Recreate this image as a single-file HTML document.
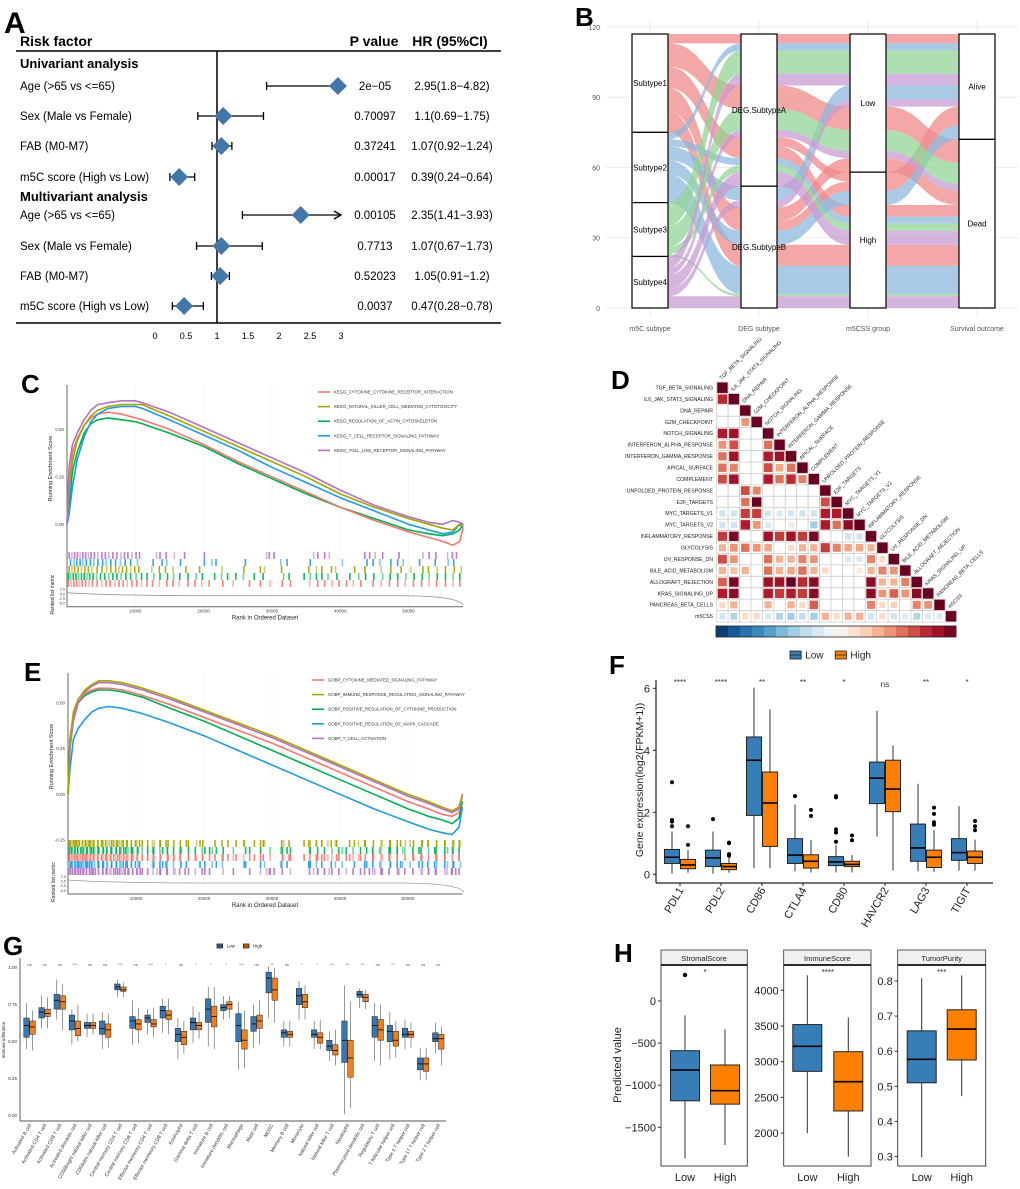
<!DOCTYPE html>
<html><head><meta charset="utf-8">
<style>
html,body{margin:0;padding:0;background:#fff;}
svg{display:block;font-family:"Liberation Sans",Arial,sans-serif;}
</style></head>
<body>
<svg id="fig" width="1020" height="1189" viewBox="0 0 1020 1189" xmlns="http://www.w3.org/2000/svg">
<rect width="1020" height="1189" fill="#fff"/>
<text x="4" y="33" font-size="30" font-weight="bold">A</text>
<text x="575" y="26" font-size="26" font-weight="bold">B</text>
<text x="21" y="393" font-size="26" font-weight="bold">C</text>
<text x="611" y="389" font-size="26" font-weight="bold">D</text>
<text x="24" y="681" font-size="26" font-weight="bold">E</text>
<text x="609" y="674" font-size="26" font-weight="bold">F</text>
<text x="3" y="955" font-size="26" font-weight="bold">G</text>
<text x="614" y="962" font-size="26" font-weight="bold">H</text>
<g id="pa"></g><g id="pb"></g><g id="pc"></g><g id="pd"></g><g id="pe"></g><g id="pf"></g><g id="pg"></g><g id="ph"></g>
</svg>
<script>
// ===== Panel A data =====
var aLabels=["Age (>65 vs <=65)","Sex (Male vs Female)","FAB (M0-M7)","m5C score (High vs Low)","Age (>65 vs <=65)","Sex (Male vs Female)","FAB (M0-M7)","m5C score (High vs Low)"];
var aHR=[2.95,1.1,1.07,0.39,2.35,1.07,1.05,0.47];
var aLo=[1.8,0.69,0.92,0.24,1.41,0.67,0.91,0.28];
var aHi=[4.82,1.75,1.24,0.64,3.93,1.73,1.2,0.78];
var aP=["2e\u221205","0.70097","0.37241","0.00017","0.00105","0.7713","0.52023","0.0037"];
var aHRtxt=["2.95(1.8\u22124.82)","1.1(0.69\u22121.75)","1.07(0.92\u22121.24)","0.39(0.24\u22120.64)","2.35(1.41\u22123.93)","1.07(0.67\u22121.73)","1.05(0.91\u22121.2)","0.47(0.28\u22120.78)"];
var aTicks=[0,0.5,1,1.5,2,2.5,3];
// ===== Panel B data =====
var bAxes=["m5C subtype","DEG subtype","m5CSS group","Survival outcome"];
var bNodes=[["Subtype1","Subtype2","Subtype3","Subtype4"],["DEG.SubtypeA","DEG.SubtypeB"],["Low","High"],["Alive","Dead"]];
// [subtype, deg, group, outcome, count]
var bFlows=[[0,0,0,0,4],[0,0,0,1,10],[0,0,1,1,5],[0,0,1,0,4],[0,1,0,1,6],[0,1,1,1,9],[0,1,1,0,4],
[1,0,0,0,3],[1,0,1,1,3],[1,1,0,0,6],[1,1,1,1,12],[1,1,1,0,6],
[2,0,0,0,10],[2,0,0,1,9],[2,0,1,1,3],[2,1,1,1,1],
[3,0,0,0,5],[3,0,0,1,3],[3,0,1,1,6],[3,1,1,1,5],[3,1,0,0,3]];
var bTicks=[0,30,60,90,120];
// ===== Panel C data =====
var cNames=["KEGG_CYTOKINE_CYTOKINE_RECEPTOR_INTERACTION","KEGG_NATURAL_KILLER_CELL_MEDIATED_CYTOTOXICITY","KEGG_REGULATION_OF_ACTIN_CYTOSKELETON","KEGG_T_CELL_RECEPTOR_SIGNALING_PATHWAY","KEGG_TOLL_LIKE_RECEPTOR_SIGNALING_PATHWAY"];
var esRanks=[0,300,800,1500,2500,3500,4500,6000,8000,10000,11000,15000,20000,25000,30000,35000,40000,45000,50000,53000,55000,56500,57500,58000];
var cRed=[0,0.2,0.38,0.45,0.52,0.56,0.58,0.59,0.58,0.56,0.55,0.5,0.42,0.33,0.25,0.17,0.09,0.02,-0.04,-0.07,-0.09,-0.11,-0.09,-0.02];
var cOlive=[0,0.2,0.33,0.44,0.52,0.57,0.6,0.62,0.63,0.63,0.63,0.57,0.49,0.41,0.33,0.25,0.16,0.09,0.03,0.0,-0.02,-0.03,0.0,-0.01];
var cGreen=[0,0.1,0.28,0.38,0.48,0.53,0.55,0.56,0.55,0.54,0.53,0.48,0.41,0.32,0.24,0.16,0.09,0.03,-0.03,-0.05,-0.06,-0.05,-0.03,0];
var cBlue=[0,0.05,0.2,0.34,0.46,0.54,0.58,0.61,0.62,0.62,0.61,0.55,0.47,0.39,0.3,0.22,0.14,0.07,0.0,-0.03,-0.05,-0.04,0.0,-0.02];
var cPurple=[0,0.3,0.42,0.48,0.55,0.6,0.63,0.64,0.65,0.65,0.64,0.59,0.51,0.43,0.35,0.27,0.18,0.10,0.04,0.01,0.0,0.02,0.01,0.0];
var cRugPurple=[0.2,0.6,1,1.4,1.8,2.2,2.6,3,3.4,3.9,4.4,5,5.5,6,6.6,7.2,7.8,8.3,8.8,9.4,10,10.5,13,13.5,14.4,15.6,17.1,20,29.1,29.5,30.2,36,36.6,37.6,38.3,43.5,44.2,45,46.1,48.5,52,52.9,53.9,55.6,56.3,56.9];
var cRugBlue=[0.4,0.9,1.3,1.8,2.2,2.7,3.3,3.8,4.4,5.1,5.6,6.3,7,7.7,8.4,9.2,10.2,12.5,13.8,14.5,16.5,20,21.1,21.7,26,31.2,32.1,35.5,40.2,43.8,44.7,45.7,47.3,48.3,49.1,51.5,53.8,55.7,56.5];
var cRugOlive=[0.2,0.6,1,1.5,2,2.5,3,3.5,4.3,5,5.7,6.3,7,7.5,8,8.6,9.2,9.8,10.4,12.3,13.4,14.3,15.4,17.3,19.3,22.6,25.8,28.2,28.8,31.3,35.3,36.4,37.2,38.6,39.2,42,43.5,45.9,47.3,48.8,50.2,52,52.8,54.1,55.3,56.6,57.6];
var cRugGreen=[0.1,0.4,0.8,1.2,1.6,2,2.4,2.8,3.2,3.7,4.2,4.8,5.4,6,6.6,7.2,7.8,8.5,9.2,10,10.8,11.6,12.6,13.5,14.6,15.5,16.4,17.6,18.8,19.7,21.5,22.5,23.4,24.6,25.7,27.3,28.6,31.6,32.4,34.6,35.5,36.4,37.2,38.1,39.4,41.3,42.6,43.6,44.8,46.1,47.2,48.3,49.5,50.7,51.9,52.9,54.1,55.3,56.4,57.4];
var cRugRed=[0.1,0.5,0.9,1.3,1.7,2.1,2.6,3.1,3.6,4.3,5,5.6,6.2,6.9,7.5,8.1,8.7,9.4,10.1,10.8,11.6,12.4,13.4,14.5,15.4,16.3,17.6,18.6,19.6,20.7,22.7,24.2,26.6,28.2,29.6,31.4,32.6,35.4,36.6,37.6,38.7,39.7,40.8,41.8,42.9,44.7,45.9,47.1,48.3,49.4,50.6,51.8,52.9,54,55.3,56.4,57.4];
var cTicks=[10000,20000,30000,40000,50000];
// ===== Panel D data =====
var dLabels=["TGF_BETA_SIGNALING","IL6_JAK_STAT3_SIGNALING","DNA_REPAIR","G2M_CHECKPOINT","NOTCH_SIGNALING","INTERFERON_ALPHA_RESPONSE","INTERFERON_GAMMA_RESPONSE","APICAL_SURFACE","COMPLEMENT","UNFOLDED_PROTEIN_RESPONSE","E2F_TARGETS","MYC_TARGETS_V1","MYC_TARGETS_V2","INFLAMMATORY_RESPONSE","GLYCOLYSIS","UV_RESPONSE_DN","BILE_ACID_METABOLISM","ALLOGRAFT_REJECTION","KRAS_SIGNALING_UP","PANCREAS_BETA_CELLS","m5CSS"];
var dCorr=[[],
[0.75],
[0,0],
[0,0,0.45],
[0.8,0.85,0,0],
[0.45,0.65,0,0,0.55],
[0.55,0.85,0,0,0.8,0.85],
[0.55,0.5,0,0,0.65,0.4,0.55],
[0.65,0.85,0,0,0.8,0.55,0.75,0.5],
[0,0,0.65,0.5,0,0,0,0,0],
[0,0,0.55,1.0,0,0,0,0,0,0.65],
[-0.2,-0.2,0.7,0.7,-0.2,-0.15,-0.2,-0.2,-0.2,0.8,0.8],
[-0.2,-0.2,0.8,0.45,-0.15,0,-0.1,0,-0.35,0.8,0.55,0.9],
[0.7,0.95,0,0,0.85,0.7,0.85,0.7,0.95,0,0,-0.2,-0.2],
[0.35,0.45,0.55,0.45,0.4,0,0.2,0.35,0.35,0.7,0.5,0.4,0.4,0.35],
[0.65,0.45,0,0,0.55,0.35,0.35,0.5,0.45,0,0,-0.15,-0.15,0.5,0.2],
[0.35,0.3,0.35,0,0.55,0.35,0.4,0.55,0.35,0.2,0,0,0.1,0.35,0.5,0.45],
[0.6,0.95,0,0,0.85,0.85,1.0,0.75,0.9,0,0,0,0,0.9,0.35,0.35,0.5],
[0.8,0.9,0,0,0.8,0.7,0.8,0.7,0.9,0,0,0,0,0.9,0.45,0.6,0.45,0.9],
[0.2,0.35,0,0,0.35,0,0.35,0.2,0.6,0,0,0,0,0.5,0.2,0.25,0,0.5,0.45],
[-0.2,-0.3,0.2,0.2,-0.15,-0.3,-0.35,-0.25,-0.35,0.35,0.2,0.35,0.35,-0.2,0.2,-0.2,-0.15,-0.3,-0.15,-0.15]];
// ===== Panel E data =====
var eNames=["GOBP_CYTOKINE_MEDIATED_SIGNALING_PATHWAY","GOBP_IMMUNE_RESPONSE_REGULATING_SIGNALING_PATHWAY","GOBP_POSITIVE_REGULATION_OF_CYTOKINE_PRODUCTION","GOBP_POSITIVE_REGULATION_OF_MAPK_CASCADE","GOBP_T_CELL_ACTIVATION"];
var eRed=[0,0.28,0.42,0.5,0.55,0.57,0.58,0.58,0.57,0.55,0.54,0.49,0.42,0.35,0.28,0.2,0.12,0.04,-0.04,-0.08,-0.11,-0.12,-0.1,0];
var eOlive=[0,0.3,0.45,0.52,0.57,0.6,0.62,0.62,0.61,0.59,0.58,0.53,0.46,0.39,0.32,0.24,0.16,0.08,0.0,-0.04,-0.07,-0.09,-0.07,0];
var eGreen=[0,0.3,0.44,0.5,0.54,0.56,0.57,0.57,0.56,0.54,0.53,0.47,0.4,0.32,0.24,0.16,0.08,0.0,-0.08,-0.12,-0.14,-0.16,-0.13,-0.04];
var eBlue=[0,0.14,0.3,0.36,0.41,0.45,0.47,0.48,0.47,0.45,0.44,0.39,0.32,0.24,0.16,0.08,0.0,-0.08,-0.15,-0.19,-0.21,-0.22,-0.18,-0.07];
var ePurple=[0,0.25,0.4,0.5,0.56,0.59,0.61,0.61,0.6,0.58,0.57,0.52,0.45,0.38,0.31,0.23,0.15,0.07,-0.01,-0.05,-0.08,-0.1,-0.08,0];
var eTicks=[-0.25,0,0.25,0.5];
// ===== Panel F data =====
var fGenes=["PDL1","PDL2","CD86","CTLA4","CD80","HAVCR2","LAG3","TIGIT"];
var fLow=[[0.02,0.35,0.55,0.8,1.38],[0.02,0.25,0.53,0.78,1.38],[0.2,1.9,3.68,4.43,6.02],[0.1,0.35,0.62,1.15,2.25],[0.06,0.28,0.4,0.57,0.95],[1.22,2.28,3.1,3.62,5.28],[0.1,0.42,0.85,1.62,2.92],[0.12,0.45,0.7,1.15,2.2]];
var fHigh=[[0.05,0.18,0.3,0.48,0.78],[0.05,0.15,0.25,0.35,0.55],[0.2,0.9,2.3,3.3,5.32],[0.06,0.2,0.42,0.63,1.1],[0.06,0.25,0.32,0.42,0.62],[0.12,2.02,2.75,3.68,4.16],[0.08,0.22,0.55,0.78,1.42],[0.12,0.35,0.55,0.75,1.12]];
var fLowOut=[[1.55,1.7,1.75,2.97],[1.78],[],[2.52],[1.05,1.35,1.45,2.48,2.52],[],[],[]];
var fHighOut=[[0.95,1.55],[0.6,0.65,1.0,1.02],[],[1.88,2.08],[1.1,1.25],[],[1.6,1.68,1.95,2.15],[1.42,1.55,1.72]];
var fSig=["****","****","**","**","*","ns","**","*"];
var fTicks=[0,2,4,6];
// ===== Panel G data =====
var gCells=["Activated B cell","Activated CD4 T cell","Activated CD8 T cell","Activated dendritic cell","CD56bright natural killer cell","CD56dim natural killer cell","Central memory CD4 T cell","Central memory CD8 T cell","Effector memeory CD4 T cell","Effector memeory CD8 T cell","Eosinophil","Gamma delta T cell","Immature  B cell","Immature dendritic cell","Macrophage","Mast cell","MDSC","Memory B cell","Monocyte","Natural killer cell","Natural killer T cell","Neutrophil","Plasmacytoid dendritic cell","Regulatory T cell","T follicular helper cell","Type 1 T helper cell","Type 17 T helper cell","Type 2 T helper cell"];
var gLow=[[.45,.53,.61,.66,.76],[.59,.66,.70,.73,.81],[.65,.72,.78,.82,.92],[.48,.58,.64,.68,.72],[.53,.59,.61,.63,.69],[.45,.55,.59,.64,.70],[.80,.85,.87,.89,.92],[.48,.59,.64,.67,.78],[.55,.63,.66,.68,.72],[.56,.66,.71,.74,.79],[.38,.50,.55,.59,.66],[.49,.58,.63,.66,.74],[.47,.63,.72,.79,.87],[.65,.71,.73,.75,.81],[.31,.50,.61,.69,.77],[.46,.57,.62,.67,.75],[.66,.83,.93,.97,1.01],[.47,.53,.56,.58,.64],[.65,.75,.81,.86,.91],[.45,.53,.55,.58,.64],[.37,.44,.47,.51,.57],[.01,.36,.51,.64,.88],[.73,.80,.82,.84,.86],[.37,.53,.61,.67,.76],[.38,.50,.57,.61,.70],[.45,.53,.55,.59,.65],[.24,.31,.35,.39,.46],[.42,.50,.52,.56,.63]];
var gHigh=[[.44,.55,.60,.64,.71],[.59,.67,.69,.72,.80],[.58,.72,.77,.81,.89],[.50,.54,.59,.64,.75],[.55,.59,.61,.63,.69],[.46,.53,.58,.62,.69],[.80,.84,.85,.87,.90],[.49,.58,.62,.65,.73],[.53,.60,.62,.65,.73],[.55,.65,.68,.71,.79],[.42,.48,.53,.57,.64],[.52,.58,.61,.63,.70],[.45,.60,.67,.74,.87],[.66,.72,.75,.77,.81],[.32,.45,.51,.58,.71],[.48,.59,.64,.68,.78],[.63,.78,.85,.93,1.0],[.47,.53,.55,.57,.64],[.65,.73,.77,.82,.88],[.45,.49,.53,.56,.65],[.34,.41,.44,.48,.58],[.05,.26,.39,.51,.77],[.72,.77,.80,.82,.85],[.34,.51,.58,.65,.75],[.39,.47,.51,.57,.64],[.46,.53,.55,.57,.63],[.24,.30,.35,.39,.46],[.34,.45,.52,.55,.60]];
var gSig=["ns","ns","ns","***","ns","ns","***","ns","***","*","ns","*","*","*","***","ns","**","ns","*","*","**","**","**","ns","**","ns","ns","ns"];
var gTicks=[0,0.25,0.5,0.75,1.0];
// ===== Panel H data =====
var hTitles=["StromalScore","ImmuneScore","TumorPurity"];
var hLow=[[-1870,-1185,-820,-590,-170],[2000,2865,3215,3520,4210],[0.298,0.51,0.577,0.658,0.808]];
var hHigh=[[-1710,-1225,-1065,-760,-335],[1670,2310,2720,3140,3620],[0.472,0.575,0.663,0.718,0.816]];
var hLowOut=[[310],[],[]];
var hSig=["*","****","***"];
var hTicks=[[0,-500,-1000,-1500],[4000,3500,3000,2500,2000],[0.8,0.7,0.6,0.5,0.4,0.3]];
var hTickTxt=[["0","\u2212500","\u22121000","\u22121500"],["4000","3500","3000","2500","2000"],["0.8","0.7","0.6","0.5","0.4","0.3"]];

var NS="http://www.w3.org/2000/svg";
function mk(tag,parent,attrs){var e=document.createElementNS(NS,tag);for(var k in attrs)e.setAttribute(k,attrs[k]);parent.appendChild(e);return e;}
function tx(parent,x,y,s,size,anchor,extra){var e=mk("text",parent,{x:x,y:y,"font-size":size,"text-anchor":anchor||"start"});if(extra)for(var k in extra)e.setAttribute(k,extra[k]);e.textContent=s;return e;}
var BLUE="#377eb8",ORANGE="#ff7f00";

// ================= PANEL A =================
(function(){
var g=document.getElementById("pa");
var ax=function(v){return 155+v*62;};
var rowY=[86,116,146,177,215,246,276,306];
var t;
t=tx(g,20,46,"Risk factor",14,"start",{"font-weight":"bold"});
t=tx(g,374,46,"P value",14,"middle",{"font-weight":"bold"});
t=tx(g,450,46,"HR (95%CI)",14,"middle",{"font-weight":"bold"});
t=tx(g,20,68,"Univariant analysis",13,"start",{"font-weight":"bold"});
t=tx(g,20,201,"Multivariant analysis",13,"start",{"font-weight":"bold"});
var l=mk("line",g,{x1:16,x2:501,y1:51,y2:51,stroke:"#000","stroke-width":1.5});
l=mk("line",g,{x1:16,x2:501,y1:323,y2:323,stroke:"#000","stroke-width":1.5});
l=mk("line",g,{x1:ax(1),x2:ax(1),y1:51,y2:323,stroke:"#000","stroke-width":1.5});
for(var i=0;i<aTicks.length;i++){t=tx(g,ax(aTicks[i]),339,String(aTicks[i]),9,"middle");}
for(var i=0;i<aLabels.length;i++){
 var y=rowY[i];
 t=tx(g,20,y+4,aLabels[i],11.5,"start");
 t=tx(g,375,y+4,aP[i],11.5,"middle");
 t=tx(g,452,y+4,aHRtxt[i],11.5,"middle");
 var hi=Math.min(aHi[i],3.0),lo=aLo[i];
 l=mk("line",g,{x1:ax(lo),x2:ax(hi),y1:y,y2:y,stroke:"#000","stroke-width":1.3});
 l=mk("line",g,{x1:ax(lo),x2:ax(lo),y1:y-4,y2:y+4,stroke:"#000","stroke-width":1.3});
 if(aHi[i]>3.0){l=mk("path",g,{d:"M"+(ax(hi)-7)+","+(y-4)+"L"+ax(hi)+","+y+"L"+(ax(hi)-7)+","+(y+4),fill:"none",stroke:"#000","stroke-width":1.3});}
 else{l=mk("line",g,{x1:ax(hi),x2:ax(hi),y1:y-4,y2:y+4,stroke:"#000","stroke-width":1.3});}
 var cx=ax(aHR[i]);
 var d=mk("path",g,{d:"M"+(cx-9)+","+y+"L"+cx+","+(y-9)+"L"+(cx+9)+","+y+"L"+cx+","+(y+9)+"Z",fill:"#4277a8"});
}
})();

// ================= PANEL B =================
(function(){
var g=document.getElementById("pb");
var yB=function(v){return 308-v*2.342;};
var bx=[632,741,850,959],bw=36;
var cols=["#f08a8a","#8db8de","#91d495","#c79bd3"];
for(var i=0;i<bTicks.length;i++){var y=yB(bTicks[i]);
 var l=mk("line",g,{x1:606,x2:1018,y1:y,y2:y,stroke:"#ebebeb","stroke-width":1});
 var t=tx(g,600,y+3,String(bTicks[i]),7,"end",{fill:"#555"});}
for(var k=0;k<4;k++){var l=mk("line",g,{x1:bx[k]+bw/2,x2:bx[k]+bw/2,y1:20,y2:318,stroke:"#ebebeb","stroke-width":1});
 var t=tx(g,bx[k]+bw/2,331,bAxes[k],7,"middle",{fill:"#555"});}
var total=0;for(var f=0;f<bFlows.length;f++)total+=bFlows[f][4];
// lode positions per axis
var pos=[];for(var f=0;f<bFlows.length;f++)pos.push([0,0,0,0]);
for(var k=0;k<4;k++){
 var idx=bFlows.map(function(_,i){return i;});
 idx.sort(function(a,b){var fa=bFlows[a],fb=bFlows[b];
  var order=[k];for(var j=k+1;j<4;j++)order.push(j);for(var j=k-1;j>=0;j--)order.push(j);
  for(var q=0;q<order.length;q++){if(fa[order[q]]!=fb[order[q]])return fa[order[q]]-fb[order[q]];}return a-b;});
 var cum=0;for(var q=0;q<idx.length;q++){pos[idx[q]][k]=total-cum;cum+=bFlows[idx[q]][4];}
}
for(var k=0;k<3;k++){
 for(var f=0;f<bFlows.length;f++){
  var n=bFlows[f][4];var x1=bx[k]+bw,x2=bx[k+1];var xm=(x1+x2)/2;
  var a1=yB(pos[f][k]),a2=yB(pos[f][k]-n),b1=yB(pos[f][k+1]),b2=yB(pos[f][k+1]-n);
  var p=mk("path",g,{d:"M"+x1+","+a1+"C"+xm+","+a1+" "+xm+","+b1+" "+x2+","+b1+"L"+x2+","+b2+"C"+xm+","+b2+" "+xm+","+a2+" "+x1+","+a2+"Z",fill:cols[bFlows[f][0]],"fill-opacity":0.75});
  
 }
}
for(var k=0;k<4;k++){
 var cum=0;
 for(var nd=0;nd<bNodes[k].length;nd++){
  var s=0;for(var f=0;f<bFlows.length;f++)if(bFlows[f][k]==nd)s+=bFlows[f][4];
  var top=yB(total-cum),bot=yB(total-cum-s);
  var r=mk("rect",g,{x:bx[k],y:top,width:bw,height:bot-top,fill:"#fff",stroke:"#000","stroke-width":1.2});
  var t=tx(g,bx[k]+bw/2,(top+bot)/2+3,bNodes[k][nd],8,"middle");
  cum+=s;
 }
}
})();

// ================= GSEA helper =================
function gsea(g,cfg){
 var xs=function(r){return cfg.x0+r*cfg.xk;};
 var ys=function(v){return cfg.y0-v*cfg.yk;};
 for(var i=0;i<cTicks.length;i++){var l=mk("line",g,{x1:xs(cTicks[i]),x2:xs(cTicks[i]),y1:cfg.top,y2:cfg.axisY,stroke:"#e8e8e8","stroke-width":0.8,"stroke-dasharray":"2,2"});}
 var l=mk("line",g,{x1:cfg.x0,x2:cfg.x0,y1:cfg.top,y2:cfg.axisY,stroke:"#666","stroke-width":1});
 l=mk("line",g,{x1:cfg.x0,x2:cfg.x0+58000*cfg.xk,y1:cfg.axisY,y2:cfg.axisY,stroke:"#666","stroke-width":1});
 for(var i=0;i<cfg.yt.length;i++){var t=tx(g,cfg.x0-3,ys(cfg.yt[i])+1.5,cfg.yt[i].toFixed(2),4.5,"end",{fill:"#444"});}
 for(var i=0;i<cTicks.length;i++){var t=tx(g,xs(cTicks[i]),cfg.axisY+6,String(cTicks[i]),4.5,"middle",{fill:"#444"});}
 var t=tx(g,265,cfg.axisY+13,"Rank in Ordered Dataset",6,"middle",{fill:"#222"});
 t=tx(g,0,0,"Running Enrichment Score",5.5,"middle",{fill:"#222",transform:"translate("+(cfg.x0-15)+","+((cfg.top+cfg.rugTop)/2)+") rotate(-90)"});
 t=tx(g,0,0,"Ranked list metric",5,"middle",{fill:"#222",transform:"translate("+(cfg.x0-13)+","+(cfg.axisY-12)+") rotate(-90)"});
 var rl=["2.5","0.0","-2.5","-5.0"];for(var i=0;i<4;i++){t=tx(g,cfg.x0-2,cfg.axisY-16+i*4.6,rl[i],3.8,"end",{fill:"#444"});}
 // ranked list metric
 var p=mk("path",g,{d:"M"+cfg.x0+","+(cfg.axisY-14)+"Q"+(cfg.x0+40)+","+(cfg.axisY-11)+" "+(cfg.x0+160)+","+(cfg.axisY-11)+"L"+(cfg.x0+330)+","+(cfg.axisY-11)+"Q"+(cfg.x0+390)+","+(cfg.axisY-11)+" "+(cfg.x0+396)+","+(cfg.axisY-2),fill:"none",stroke:"#999","stroke-width":0.8});
 // rugs
 for(var r=0;r<cfg.rugs.length;r++){
  var ry=cfg.rugTop+r*7;var arr=cfg.rugs[r];
  for(var q=0;q<arr.length;q++){var rx=xs(arr[q]*1000);var m=mk("rect",g,{x:rx,y:ry,width:1.6,height:7,fill:cfg.rugCol[r],opacity:(q%3==1?0.55:0.9)});}
 }
 // curves
 for(var s=0;s<cfg.series.length;s++){
  var d="";for(var i=0;i<esRanks.length;i++){d+=(i?"L":"M")+xs(esRanks[i]).toFixed(1)+","+ys(cfg.series[s][i]).toFixed(1);}
  var c=mk("path",g,{d:d,fill:"none",stroke:cfg.cols[s],"stroke-width":1.6,"stroke-linejoin":"round"});
 }
 for(var s=0;s<cfg.names.length;s++){var ly=cfg.legY+s*cfg.legStep;
  var ll=mk("line",g,{x1:cfg.legX,x2:cfg.legX+12,y1:ly,y2:ly,stroke:cfg.legCols[s],"stroke-width":1.6});
  var lt=tx(g,cfg.legX+16,ly+1.5,cfg.names[s],4.3,"start",{fill:"#333"});}
}
var RED="#f8766d",OLV="#a3a500",GRN="#00b050",BLU="#1e9be6",PUR="#b66fc1";
gsea(document.getElementById("pc"),{x0:67,xk:68.3/10000,y0:524.3,yk:190,top:385,rugTop:552,axisY:606.7,yt:[0,0.25,0.5],
 series:[cGreen,cRed,cBlue,cOlive,cPurple],cols:[GRN,RED,BLU,OLV,PUR],
 rugs:[cRugPurple,cRugBlue,cRugOlive,cRugGreen,cRugRed],rugCol:[PUR,BLU,OLV,GRN,RED],
 names:cNames,legCols:[RED,OLV,GRN,BLU,PUR],legX:318,legY:392,legStep:14.6});
gsea(document.getElementById("pe"),{x0:68,xk:68/10000,y0:794.3,yk:183,top:673,rugTop:840,axisY:894,yt:eTicks,
 series:[eBlue,eGreen,eRed,ePurple,eOlive],cols:[BLU,GRN,RED,PUR,OLV],
 rugs:[cRugGreen.concat(cRugOlive),cRugRed.concat(cRugBlue),cRugRed.concat(cRugGreen),cRugBlue.concat(cRugOlive),cRugPurple.concat(cRugRed)],rugCol:[OLV,GRN,RED,BLU,PUR],
 names:eNames,legCols:[RED,OLV,GRN,BLU,PUR],legX:312,legY:680,legStep:14.6});

// ================= PANEL D =================
(function(){
var g=document.getElementById("pd");
var x0=716.7,y0=382,c=11.43;
var stops=["#053061","#2166ac","#4393c3","#92c5de","#d1e5f0","#f7f7f7","#fddbc7","#f4a582","#d6604d","#b2182b","#67001f"];
function hex(h){return [parseInt(h.substr(1,2),16),parseInt(h.substr(3,2),16),parseInt(h.substr(5,2),16)];}
function col(v){var t=(v+1)/2*10;var i=Math.min(9,Math.floor(t));var f=t-i;var a=hex(stops[i]),b=hex(stops[i+1]);
 return "rgb("+Math.round(a[0]+(b[0]-a[0])*f)+","+Math.round(a[1]+(b[1]-a[1])*f)+","+Math.round(a[2]+(b[2]-a[2])*f)+")";}
for(var i=0;i<dLabels.length;i++){
 var t=tx(g,713,y0+i*c+c/2+1.8,dLabels[i],5.2,"end",{fill:"#222"});
 t=tx(g,0,0,dLabels[i],5.2,"start",{fill:"#222",transform:"translate("+(x0+i*c+c/2-1)+","+(y0+i*c-2)+") rotate(-45)"});
 for(var j=0;j<=i;j++){
  var v=(j==i)?1:dCorr[i][j];
  var r=mk("rect",g,{x:x0+j*c,y:y0+i*c,width:c,height:c,fill:"#fff",stroke:"#cfcfcf","stroke-width":0.8});
  if(v!==0){var sz=(j==i)?c-1:Math.max(5,(c-2)*Math.min(1,0.55+Math.abs(v)*0.6));
   var q=mk("rect",g,{x:x0+j*c+(c-sz)/2,y:y0+i*c+(c-sz)/2,width:sz,height:sz,fill:col(v)});}
 }
}
var n=20,w=240/n;
for(var k=0;k<n;k++){var r=mk("rect",g,{x:716+k*w,y:626,width:w+0.3,height:11,fill:col(-1+(k+0.5)*2/n)});}
var fr=mk("rect",g,{x:716,y:626,width:240,height:11,fill:"none",stroke:"#222","stroke-width":0.8});
})();

// ================= box helper =================
function boxplot(g,cx,w,st,outs,color,ys,lw,orad){
 var l=mk("line",g,{x1:cx,x2:cx,y1:ys(st[0]),y2:ys(st[4]),stroke:"#333","stroke-width":lw});
 var r=mk("rect",g,{x:cx-w/2,y:ys(st[3]),width:w,height:ys(st[1])-ys(st[3]),fill:color,stroke:"#222","stroke-width":lw});
 var m=mk("line",g,{x1:cx-w/2,x2:cx+w/2,y1:ys(st[2]),y2:ys(st[2]),stroke:"#000","stroke-width":lw*1.6});
 for(var i=0;i<outs.length;i++){var o=mk("circle",g,{cx:cx,cy:ys(outs[i]),r:orad,fill:"#000"});}
}
function legendLH(g,x,y,s,fs){
 var items=[["Low",BLUE],["High",ORANGE]];var xx=x;
 for(var i=0;i<2;i++){
  var r=mk("rect",g,{x:xx,y:y-s/2,width:s*1.4,height:s,fill:items[i][1],stroke:"#222","stroke-width":0.8});
  var l=mk("line",g,{x1:xx,x2:xx+s*1.4,y1:y,y2:y,stroke:"#222","stroke-width":0.8});
  var t=tx(g,xx+s*1.4+4,y+fs*0.35,items[i][0],fs,"start",{fill:"#222"});
  xx+=s*1.4+4+fs*(i==0?2.4:2.6)+6;
 }
}

// ================= PANEL F =================
(function(){
var g=document.getElementById("pf");
var ys=function(v){return 874.3-v*31;};
legendLH(g,790,655,8,10);
var l=mk("line",g,{x1:656,x2:656,y1:680,y2:883,stroke:"#222","stroke-width":1.2});
l=mk("line",g,{x1:656,x2:993,y1:883,y2:883,stroke:"#222","stroke-width":1.2});
for(var i=0;i<fTicks.length;i++){var y=ys(fTicks[i]);var tk=mk("line",g,{x1:653,x2:656,y1:y,y2:y,stroke:"#222"});
 var t=tx(g,650,y+4,String(fTicks[i]),11,"end",{fill:"#222"});}
var t=tx(g,0,0,"Gene expression(log2(FPKM+1))",10.5,"middle",{fill:"#222",transform:"translate(643,780) rotate(-90)"});
for(var i=0;i<fGenes.length;i++){var cx=680+i*41;
 boxplot(g,cx-8,15,fLow[i],fLowOut[i],BLUE,ys,1,2);
 boxplot(g,cx+8,15,fHigh[i],fHighOut[i],ORANGE,ys,1,2);
 var tk=mk("line",g,{x1:cx,x2:cx,y1:883,y2:886,stroke:"#222"});
 t=tx(g,0,0,fGenes[i],11,"end",{fill:"#222",transform:"translate("+(cx+4)+",890) rotate(-60)"});
 t=tx(g,cx,fSig[i]=="ns"?687:685,fSig[i],fSig[i]=="ns"?8:8,"middle",{fill:"#333"});
}
})();

// ================= PANEL G =================
(function(){
var g=document.getElementById("pg");
var ys=function(v){return 1115.7-v*148;};
legendLH(g,217,946,4,4.5);
var l=mk("line",g,{x1:20,x2:20,y1:958,y2:1121,stroke:"#777","stroke-width":1.2});
l=mk("line",g,{x1:20,x2:446,y1:1121,y2:1121,stroke:"#777","stroke-width":1.2});
for(var i=0;i<gTicks.length;i++){var y=ys(gTicks[i]);var t=tx(g,17,y+1.5,gTicks[i].toFixed(2),4.5,"end",{fill:"#333"});}
var t=tx(g,0,0,"Immune infiltration",4.5,"middle",{fill:"#333",transform:"translate(5,1040) rotate(-90)"});
for(var i=0;i<gCells.length;i++){var cx=29.5+i*15.14;
 boxplot(g,cx-3,5.5,gLow[i],[],"#3a77b0",ys,0.5,0.7);
 boxplot(g,cx+3,5.5,gHigh[i],[],"#f07f20",ys,0.5,0.7);
 t=tx(g,0,0,gCells[i],5,"end",{fill:"#333",transform:"translate("+(cx+2)+",1125) rotate(-60)"});
 t=tx(g,cx,966,gSig[i],4,"middle",{fill:"#555"});
}
})();

// ================= PANEL H =================
(function(){
var g=document.getElementById("ph");
var px=[[661,747.3],[783.7,871],[897.7,985.7]];
var scales=[function(v){return 1001-v*42.1/500;},function(v){return 990.3-(v-4000)*35.7/500;},function(v){return 981-(v-0.8)*351;}];
var cxs=[[685,725],[807.3,848.3],[921.7,961.7]];
for(var p=0;p<3;p++){
 var ys=scales[p];
 var s=mk("rect",g,{x:px[p][0],y:950,width:px[p][1]-px[p][0],height:15,fill:"#f0f0f0",stroke:"#333","stroke-width":0.8});
 var t=tx(g,(px[p][0]+px[p][1])/2,961,hTitles[p],7.5,"middle",{fill:"#222"});
 var f=mk("rect",g,{x:px[p][0],y:965,width:px[p][1]-px[p][0],height:201,fill:"none",stroke:"#333","stroke-width":0.9});
 var l=mk("line",g,{x1:px[p][0],x2:px[p][1],y1:965,y2:965,stroke:"#111","stroke-width":1.8});
 for(var i=0;i<hTicks[p].length;i++){var y=ys(hTicks[p][i]);
  var tk=mk("line",g,{x1:px[p][0]-3,x2:px[p][0],y1:y,y2:y,stroke:"#333"});
  t=tx(g,px[p][0]-5,y+4,hTickTxt[p][i],11,"end",{fill:"#222"});}
 boxplot(g,cxs[p][0],29,hLow[p],hLowOut[p],BLUE,ys,1,2.2);
 boxplot(g,cxs[p][1],29,hHigh[p],[],ORANGE,ys,1,2.2);
 t=tx(g,cxs[p][0],1181,"Low",11,"middle",{fill:"#222"});
 t=tx(g,cxs[p][1],1181,"High",11,"middle",{fill:"#222"});
 t=tx(g,(cxs[p][0]+cxs[p][1])/2,975,hSig[p],8,"middle",{fill:"#333"});
}
var t=tx(g,0,0,"Predicted value",11,"middle",{fill:"#222",transform:"translate(621,1065) rotate(-90)"});
})();
</script>
</body></html>
